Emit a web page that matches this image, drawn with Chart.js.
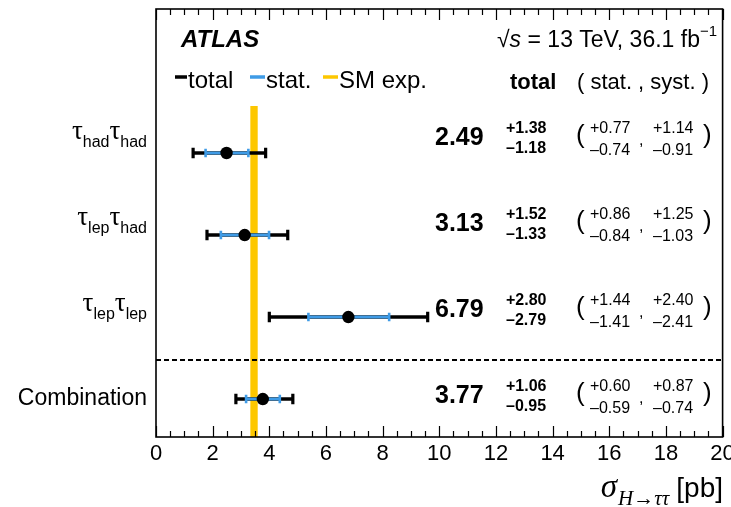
<!DOCTYPE html>
<html>
<head>
<meta charset="utf-8">
<script src="https://cdn.jsdelivr.net/npm/chart.js@4/dist/chart.umd.min.js"></script>
<style>
  html, body { margin: 0; padding: 0; background: #ffffff; }
  canvas { display: block; }
</style>
</head>
<body>
<canvas id="c" width="731" height="507"></canvas>
<script>
// Measured H -> tau tau cross sections per channel, in pb
const categories = ['τ_{had}τ_{had}', 'τ_{lep}τ_{had}', 'τ_{lep}τ_{lep}', 'Combination'];
const central    = [2.49, 3.13, 6.79, 3.77];
const totalUp    = [1.38, 1.52, 2.80, 1.06];
const totalDown  = [1.18, 1.33, 2.79, 0.95];
const statUp     = [0.77, 0.86, 1.44, 0.60];
const statDown   = [0.74, 0.84, 1.41, 0.59];
const systUp     = [1.14, 1.25, 2.40, 0.87];
const systDown   = [0.91, 1.03, 2.41, 0.74];
// Standard Model expectation and its uncertainty
const smValue = 3.46;
const smUnc   = 0.13;
// Axis range and tick step
const xMin = 0, xMax = 20, xStep = 2;

const SANS  = "'Liberation Sans', Arial, Helvetica, sans-serif";
const SERIF = "'Liberation Serif', 'Times New Roman', serif";
const BLUE  = '#3f9be6';
const GOLD  = '#fdc700';

// vertical layout in y-value units: rows from top (n) to bottom (1)
const nRows = categories.length;
const rowY = i => nRows - i;
const yMin = 0.537, yMax = 5.756;
const sepY = 1.476;      // separator between channels and combination
const bandTop = 4.573;   // upper end of the SM band

const datasets = [];

// central values
datasets.push({
  type: 'scatter',
  data: central.map((c, i) => ({ x: c, y: rowY(i) })),
  pointRadius: 6.2,
  pointBackgroundColor: '#000',
  pointBorderWidth: 0,
  order: 0
});

// statistical error bars
central.forEach((c, i) => {
  datasets.push({
    type: 'line',
    data: [{ x: c - statDown[i], y: rowY(i) }, { x: c + statUp[i], y: rowY(i) }],
    borderColor: BLUE,
    borderWidth: 3,
    borderCapStyle: 'butt',
    pointStyle: 'line',
    pointRotation: 90,
    pointRadius: 4.2,
    pointBorderWidth: 2.6,
    pointBorderColor: BLUE,
    order: 1
  });
});

// total error bars
central.forEach((c, i) => {
  datasets.push({
    type: 'line',
    data: [{ x: c - totalDown[i], y: rowY(i) }, { x: c + totalUp[i], y: rowY(i) }],
    borderColor: '#000',
    borderWidth: 3.6,
    borderCapStyle: 'butt',
    pointStyle: 'line',
    pointRotation: 90,
    pointRadius: 5.2,
    pointBorderWidth: 3.2,
    pointBorderColor: '#000',
    order: 2
  });
});

// dashed separator
datasets.push({
  type: 'line',
  data: [{ x: xMin, y: sepY }, { x: xMax, y: sepY }],
  borderColor: '#000',
  borderWidth: 1.8,
  borderDash: [5, 3],
  pointRadius: 0,
  order: 3
});

// SM expectation band
datasets.push({
  type: 'line',
  data: [
    { x: smValue - smUnc, y: yMin },
    { x: smValue - smUnc, y: bandTop },
    { x: smValue + smUnc, y: bandTop },
    { x: smValue + smUnc, y: yMin }
  ],
  borderWidth: 0,
  borderColor: 'rgba(0,0,0,0)',
  backgroundColor: GOLD,
  fill: 'shape',
  pointRadius: 0,
  order: 4
});

function fmtUp(v)   { return '+' + v.toFixed(2); }
function fmtDown(v) { return '\u2013' + v.toFixed(2); }

// draws text with _{...} subscripts; returns width
function drawRich(ctx, str, x, y, mainFont, subFont, subShift, measureOnly) {
  const parts = [];
  const re = /_\{([^}]*)\}/g;
  let last = 0, m;
  while ((m = re.exec(str)) !== null) {
    if (m.index > last) parts.push({ t: str.slice(last, m.index), sub: false });
    parts.push({ t: m[1], sub: true });
    last = re.lastIndex;
  }
  if (last < str.length) parts.push({ t: str.slice(last), sub: false });
  let w = 0;
  parts.forEach(p => {
    ctx.font = p.sub ? subFont : mainFont;
    const pw = ctx.measureText(p.t).width;
    if (!measureOnly) ctx.fillText(p.t, x + w, y + (p.sub ? subShift : 0));
    w += pw;
  });
  return w;
}

const decorations = {
  id: 'decorations',
  afterDraw(chart) {
    const ctx = chart.ctx;
    const a = chart.chartArea;
    const xs = chart.scales.x;
    ctx.save();
    ctx.fillStyle = '#000';
    ctx.strokeStyle = '#000';

    // inward ticks on bottom and top
    ctx.lineWidth = 1.2;
    ctx.beginPath();
    for (let k = 0; k <= (xMax - xMin) * 2; k++) {
      const v = xMin + k * 0.5;
      const px = Math.round(xs.getPixelForValue(v)) + 0.5;
      const len = (k % 4 === 0) ? 11 : 6;
      ctx.moveTo(px, a.bottom); ctx.lineTo(px, a.bottom - len);
      ctx.moveTo(px, a.top);    ctx.lineTo(px, a.top + len);
    }
    ctx.stroke();

    // frame
    ctx.lineWidth = 1.6;
    ctx.strokeRect(a.left, a.top, a.right - a.left, a.bottom - a.top);

    ctx.textAlign = 'left';
    ctx.textBaseline = 'alphabetic';

    // experiment label
    ctx.font = 'italic bold 24px ' + SANS;
    ctx.fillText('ATLAS', 181, 47);

    // energy and luminosity
    {
      let x = 497, y = 47;
      ctx.font = '23px ' + SANS;
      ctx.fillText('\u221A', x, y); x += ctx.measureText('\u221A').width;
      ctx.font = 'italic 23px ' + SANS;
      ctx.fillText('s', x, y); x += ctx.measureText('s').width;
      ctx.font = '23px ' + SANS;
      const t = ' = 13 TeV, 36.1 fb';
      ctx.fillText(t, x, y); x += ctx.measureText(t).width;
      ctx.font = '15px ' + SANS;
      ctx.fillText('\u22121', x, y - 11);
    }

    // legend
    ctx.font = '24px ' + SANS;
    ctx.lineWidth = 3.5;
    const legend = [
      { c: '#000', x0: 175, x1: 187, text: 'total', tx: 188 },
      { c: BLUE,   x0: 250, x1: 265, text: 'stat.', tx: 266 },
      { c: GOLD,   x0: 323, x1: 338, text: 'SM exp.', tx: 339 }
    ];
    legend.forEach(l => {
      ctx.strokeStyle = l.c;
      ctx.beginPath(); ctx.moveTo(l.x0, 77); ctx.lineTo(l.x1, 77); ctx.stroke();
      ctx.fillStyle = '#000';
      ctx.fillText(l.text, l.tx, 88);
    });
    ctx.strokeStyle = '#000';

    // column headers
    ctx.font = 'bold 22px ' + SANS;
    ctx.fillText('total', 510, 89);
    ctx.font = '22px ' + SANS;
    ctx.fillText('( stat. , syst. )', 577, 89);

    // per-row labels and values
    categories.forEach((cat, i) => {
      const yc = 136 + 86 * i;
      // category label, right aligned
      const isTau = cat.indexOf('_{') >= 0;
      if (isTau) {
        const mainF = '27px ' + SERIF, subF = '16px ' + SANS;
        const w = drawRich(ctx, cat, 0, 0, mainF, subF, 8, true);
        drawRich(ctx, cat, 147 - w, yc + 3, mainF, subF, 8, false);
      } else {
        ctx.font = '23px ' + SANS;
        ctx.textAlign = 'right';
        ctx.fillText(cat, 147, yc + 11);
        ctx.textAlign = 'left';
      }
      // central value
      ctx.font = 'bold 25px ' + SANS;
      ctx.fillText(central[i].toFixed(2), 435, yc + 9);
      // total uncertainty
      ctx.font = 'bold 16px ' + SANS;
      ctx.fillText(fmtUp(totalUp[i]), 506, yc - 3.5);
      ctx.fillText(fmtDown(totalDown[i]), 506, yc + 16.5);
      // stat and syst uncertainties
      ctx.font = '16px ' + SANS;
      ctx.fillText(fmtUp(statUp[i]), 590, yc - 3.5);
      ctx.fillText(fmtDown(statDown[i]), 590, yc + 19);
      ctx.fillText(fmtUp(systUp[i]), 653, yc - 3.5);
      ctx.fillText(fmtDown(systDown[i]), 653, yc + 19);
      ctx.fillText(',', 639, yc + 9);
      ctx.font = '26px ' + SANS;
      ctx.fillText('(', 576, yc + 7);
      ctx.fillText(')', 703, yc + 7);
    });

    // axis title
    {
      ctx.font = '28px ' + SANS;
      ctx.textAlign = 'right';
      ctx.fillText('[pb]', 723, 497);
      const wpb = ctx.measureText('[pb]').width;
      ctx.textAlign = 'left';
      ctx.font = 'italic 21px ' + SERIF;
      const sub = 'H\u2192\u03C4\u03C4';
      const wsub = ctx.measureText(sub).width;
      const xsub = 723 - wpb - 7 - wsub;
      ctx.fillText(sub, xsub, 505);
      ctx.font = 'italic 33px ' + SERIF;
      const ws = ctx.measureText('\u03C3').width;
      ctx.fillText('\u03C3', xsub - ws - 1, 497);
    }

    ctx.restore();
  }
};

new Chart(document.getElementById('c'), {
  type: 'scatter',
  data: { datasets },
  options: {
    responsive: false,
    animation: false,
    devicePixelRatio: 1,
    events: [],
    layout: { padding: { left: 156, right: 8, top: 9, bottom: 0 } },
    plugins: { legend: { display: false }, tooltip: { enabled: false } },
    scales: {
      x: {
        type: 'linear',
        min: xMin,
        max: xMax,
        position: 'bottom',
        grid: { display: false, drawTicks: false },
        border: { display: false },
        ticks: {
          stepSize: xStep,
          color: '#000',
          padding: 4,
          maxRotation: 0,
          autoSkip: false,
          font: { family: SANS, size: 22 }
        },
        afterFit(scale) {
          scale.height = 70;
          scale.paddingLeft = 0;
          scale.paddingRight = 0;
        }
      },
      y: {
        type: 'linear',
        min: yMin,
        max: yMax,
        display: false
      }
    }
  },
  plugins: [decorations]
});
</script>
</body>
</html>
